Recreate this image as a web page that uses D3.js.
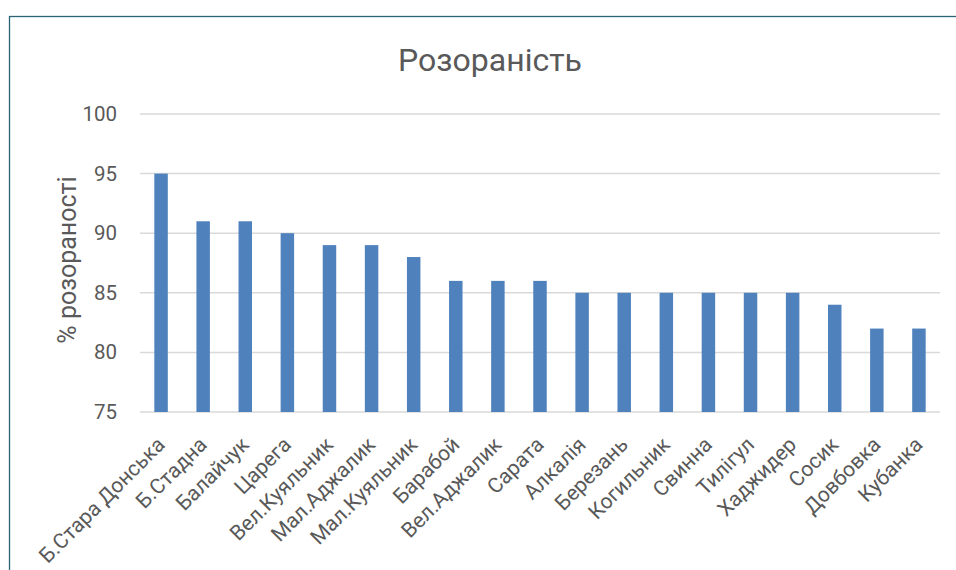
<!DOCTYPE html>
<html>
<head>
<meta charset="utf-8">
<script src="https://cdn.jsdelivr.net/npm/d3@7"></script>
<style>
  html, body { margin: 0; padding: 0; background: #fff; }
  svg { display: block; }
  text { font-family: Roboto, "Noto Sans", sans-serif; fill: #595959; }
</style>
</head>
<body>
<svg id="chart" width="956" height="570"></svg>
<script>
// Ploughed share of each river basin, percent
const categories = ["Б.Стара Донська", "Б.Стадна", "Балайчук", "Царега", "Вел.Куяльник",
  "Мал.Аджалик", "Мал.Куяльник", "Барабой", "Вел.Аджалик", "Сарата", "Алкалія",
  "Березань", "Когильник", "Свинна", "Тилігул", "Хаджидер", "Сосик", "Довбовка", "Кубанка"];
const values = [95, 91, 91, 90, 89, 89, 88, 86, 86, 86, 85, 85, 85, 85, 85, 85, 84, 82, 82];
const yTicks = [75, 80, 85, 90, 95, 100];
const titleText = "Розораність";
const yLabel = "% розораності";

const svg = d3.select("#chart");

// outer chart frame
svg.append("rect")
  .attr("x", 9.5).attr("y", 16.5)
  .attr("width", 960).attr("height", 600)
  .attr("fill", "none").attr("stroke", "#2c6374").attr("stroke-width", 1.3);

const plot = { left: 140, right: 940, top: 114, bottom: 412 };

const x = d3.scaleBand()
  .domain(categories)
  .range([plot.left, plot.right])
  .paddingInner(0.68).paddingOuter(0.34);

const y = d3.scaleLinear()
  .domain([75, 100])
  .range([plot.bottom, plot.top]);

// horizontal gridlines
svg.append("g")
  .selectAll("line")
  .data(yTicks)
  .join("line")
  .attr("x1", plot.left).attr("x2", plot.right)
  .attr("y1", d => y(d)).attr("y2", d => y(d))
  .attr("stroke", "#d9d9d9").attr("stroke-width", 1.5);

// y axis tick labels
const yAxis = d3.axisLeft(y).tickValues(yTicks).tickSize(0).tickPadding(23);
svg.append("g")
  .attr("transform", `translate(${plot.left},0)`)
  .call(yAxis)
  .call(g => g.select(".domain").remove())
  .call(g => g.selectAll("text")
    .style("font-family", "Roboto, 'Noto Sans', sans-serif")
    .attr("font-size", 20.5).attr("fill", "#595959"));

// bars
svg.append("g")
  .selectAll("rect")
  .data(values)
  .join("rect")
  .attr("x", (d, i) => x(categories[i]))
  .attr("width", x.bandwidth())
  .attr("y", d => y(d))
  .attr("height", d => y(75) - y(d))
  .attr("fill", "#4f81bd");

// x axis labels, rotated
const xAxis = d3.axisBottom(x).tickSize(0).tickPadding(0);
svg.append("g")
  .attr("transform", `translate(0,${plot.bottom})`)
  .call(xAxis)
  .call(g => g.select(".domain").remove())
  .call(g => g.selectAll("text")
    .style("font-family", "Roboto, 'Noto Sans', sans-serif")
    .attr("font-size", 21).attr("fill", "#595959")
    .attr("text-anchor", "end")
    .attr("dy", null).attr("y", 0)
    .attr("transform", "translate(5,34) rotate(-45)"));

// title
svg.append("text")
  .attr("x", 490).attr("y", 71)
  .attr("text-anchor", "middle")
  .attr("font-size", 32)
  .text(titleText);

// y axis title
svg.append("text")
  .attr("transform", `translate(76,260) rotate(-90)`)
  .attr("text-anchor", "middle")
  .attr("font-size", 25)
  .text(yLabel);
</script>
</body>
</html>
